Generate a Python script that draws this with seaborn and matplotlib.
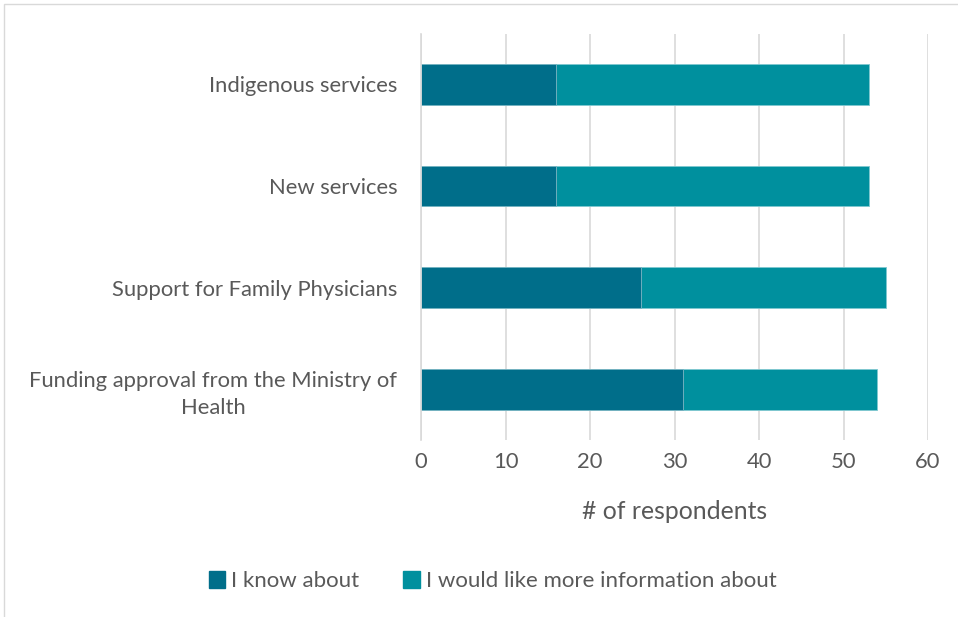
import matplotlib
matplotlib.use("Agg")
import matplotlib.pyplot as plt
from matplotlib.patches import Rectangle
import seaborn as sns
import pandas as pd

categories = ["Indigenous services", "New services", "Support for Family Physicians",
              "Funding approval from the Ministry of\nHealth"]
know_about = [16, 16, 26, 31]
more_info = [37, 37, 29, 23]
x_ticks = [0, 10, 20, 30, 40, 50, 60]

dark = "#006E8A"
light = "#00909E"
text_col = "#595959"
grid_col = "#D9D9D9"

sns.set_theme(style="white")
plt.rcParams["font.family"] = ["Lato", "DejaVu Sans"]

df = pd.DataFrame({
    "category": categories,
    "know": know_about,
    "total": [k + m for k, m in zip(know_about, more_info)],
})

fig = plt.figure(figsize=(9.58, 6.17), dpi=100)
ax = fig.add_axes([0.4395, 0.2869, 0.5292, 0.6585])

sns.barplot(data=df, y="category", x="total", orient="h", color=light,
            width=0.4, saturation=1, edgecolor="#7fc8d0", linewidth=0.6, ax=ax)
sns.barplot(data=df, y="category", x="know", orient="h", color=dark,
            width=0.4, saturation=1, edgecolor="#7fb7c5", linewidth=0.6, ax=ax)

ax.set_xlim(0, 60)
ax.set_ylim(3.5, -0.5)
ax.set_xticks(x_ticks)
ax.set_xticklabels([str(t) for t in x_ticks])
ax.xaxis.grid(True, color=grid_col, linewidth=1.2)
ax.set_axisbelow(True)
for s in ["top", "right", "bottom"]:
    ax.spines[s].set_visible(False)
ax.spines["left"].set_color(grid_col)
ax.spines["left"].set_linewidth(1.2)
ax.tick_params(axis="both", length=0, labelsize=15.8, labelcolor=text_col)
ax.tick_params(axis="x", pad=9)
ax.tick_params(axis="y", pad=17)
for lbl in ax.get_yticklabels():
    lbl.set_multialignment("center")
    lbl.set_linespacing(1.45)
ax.set_ylabel("")
ax.set_xlabel("# of respondents", fontsize=17.8, color=text_col, labelpad=20)

handles = [Rectangle((0, 0), 1, 1, color=dark), Rectangle((0, 0), 1, 1, color=light)]
fig.legend(handles, ["I know about", "I would like more information about"],
           loc="center", bbox_to_anchor=(0.514, 0.058), ncol=2, frameon=False,
           fontsize=16, handlelength=0.75, handleheight=0.75, handletextpad=0.25,
           columnspacing=2.0, labelcolor=text_col)

fig.patches.append(Rectangle((4 / 958, -0.1), 1.2, 1 - 4 / 617 + 0.1,
                             transform=fig.transFigure, fill=False,
                             edgecolor=grid_col, linewidth=1))

fig.savefig("out.png", dpi=100, facecolor="white")
